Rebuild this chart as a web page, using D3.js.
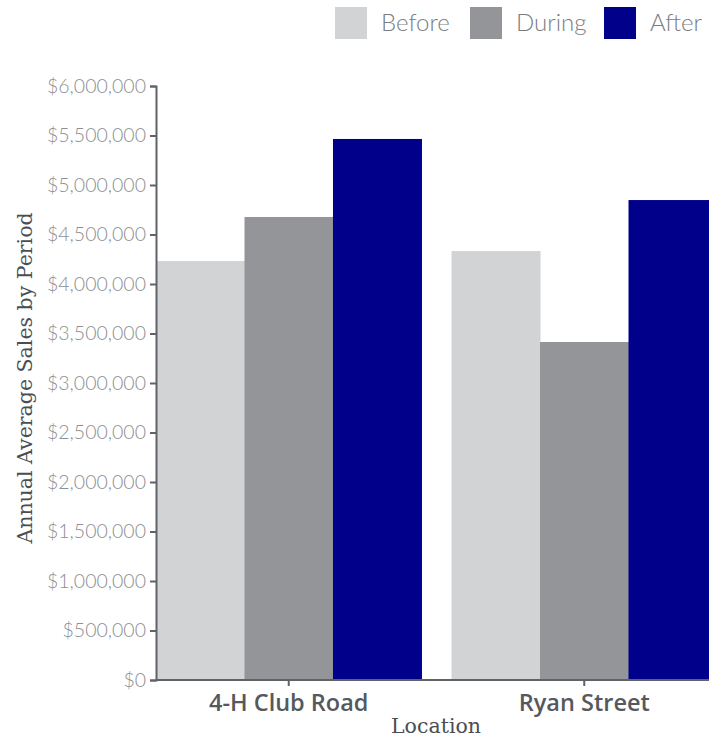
<!DOCTYPE html>
<html>
<head>
<meta charset="utf-8">
<script src="https://cdn.jsdelivr.net/npm/d3@7"></script>
<style>
body { margin: 0; background: #fff; }
</style>
</head>
<body>
<svg width="709" height="738"></svg>
<script>
// data
var locations = ["4-H Club Road", "Ryan Street"];
var periods = ["Before", "During", "After"];
var before = [4232000, 4333000];
var during = [4677000, 3414000];
var after = [5465000, 4848000];
var yTicks = [0, 500000, 1000000, 1500000, 2000000, 2500000, 3000000, 3500000, 4000000, 4500000, 5000000, 5500000, 6000000];
var colors = ["#d1d3d5", "#939598", "#00008b"];

var svg = d3.select("svg");
var plotLeft = 156, plotTop = 86, plotBottom = 680;

var rows = locations.map(function (loc, i) {
  return { loc: loc, values: [before[i], during[i], after[i]] };
});

var xScale = d3.scaleBand().domain(locations).range([plotLeft, plotLeft + 561]).paddingInner(0.1017).paddingOuter(0);
var xInner = d3.scaleBand().domain(periods).range([0, xScale.bandwidth()]);
var yScale = d3.scaleLinear().domain([0, 6000000]).range([plotBottom, plotTop]);

var fmt = function (d) { return "$" + d3.format(",")(d); };

// bars
svg.selectAll(".grp")
  .data(rows)
  .enter()
  .append("g")
  .attr("class", "grp")
  .attr("transform", function (d) { return "translate(" + xScale(d.loc) + ",0)"; })
  .selectAll("rect")
  .data(function (d) { return d.values.map(function (v, j) { return { p: periods[j], v: v, c: colors[j] }; }); })
  .enter()
  .append("rect")
  .attr("x", function (d) { return xInner(d.p); })
  .attr("y", function (d) { return yScale(d.v); })
  .attr("width", xInner.bandwidth() + 0.5)
  .attr("height", function (d) { return plotBottom - yScale(d.v); })
  .attr("fill", function (d) { return d.c; });

// y axis
var yAxis = svg.append("g")
  .attr("transform", "translate(" + plotLeft + ",0)")
  .call(d3.axisLeft(yScale).tickValues(yTicks).tickFormat(fmt).tickSize(6).tickPadding(4));
yAxis.select(".domain").attr("stroke", "#5f6368").attr("stroke-width", 2);
yAxis.selectAll(".tick line").attr("stroke", "#5f6368").attr("stroke-width", 2);
yAxis.selectAll(".tick text")
  .attr("fill", "#8c8f93")
  .style("font-family", "Lato, 'Open Sans', sans-serif")
  .style("font-weight", "300")
  .style("font-size", "19.5px");

// x axis
var xAxis = svg.append("g")
  .attr("transform", "translate(0," + plotBottom + ")")
  .call(d3.axisBottom(xScale).tickSize(6).tickSizeOuter(0).tickPadding(5));
xAxis.select(".domain").attr("stroke", "#5f6368").attr("stroke-width", 2)
  .attr("d", "M" + plotLeft + ",0H709");
xAxis.selectAll(".tick line").attr("stroke", "#5f6368").attr("stroke-width", 2);
xAxis.selectAll(".tick text")
  .attr("fill", "#55595e")
  .attr("dy", "0.85em")
  .style("font-family", "'Open Sans', Lato, sans-serif")
  .style("font-weight", "600")
  .style("font-size", "23.5px");

// axis titles
svg.append("text")
  .attr("x", 436)
  .attr("y", 733)
  .attr("text-anchor", "middle")
  .attr("fill", "#4a4e53")
  .style("font-family", "'DejaVu Serif', serif")
  .style("font-size", "20.5px")
  .text("Location");

svg.append("text")
  .attr("transform", "translate(32," + ((plotTop + plotBottom) / 2 - 5) + ") rotate(-90)")
  .attr("text-anchor", "middle")
  .attr("fill", "#4a4e53")
  .style("font-family", "'DejaVu Serif', serif")
  .style("font-size", "20.5px")
  .text("Annual Average Sales by Period");

// legend
var legendX = [335, 470, 604];
var legend = svg.selectAll(".leg")
  .data(periods)
  .enter()
  .append("g")
  .attr("class", "leg")
  .attr("transform", function (d, i) { return "translate(" + legendX[i] + ",7)"; });
legend.append("rect")
  .attr("width", 32)
  .attr("height", 32)
  .attr("fill", function (d, i) { return colors[i]; });
legend.append("text")
  .attr("x", 46)
  .attr("y", 24)
  .attr("fill", "#7a7d82")
  .style("font-family", "Lato, 'Open Sans', sans-serif")
  .style("font-weight", "300")
  .style("font-size", "24px")
  .text(function (d) { return d; });
</script>
</body>
</html>
